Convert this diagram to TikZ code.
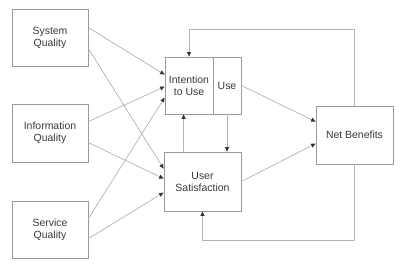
\documentclass[tikz,border=0pt]{standalone}
\usepackage{fontspec}
\setmainfont{Liberation Sans}
\usetikzlibrary{arrows.meta,calc}
\definecolor{linegray}{HTML}{B4B4B4}
\definecolor{boxgray}{HTML}{9A9A9A}
\definecolor{txtgray}{HTML}{3A3A3A}
\begin{document}
\begin{tikzpicture}[x=1bp,y=-1bp,
  box/.style={draw=boxgray,line width=0.8bp,inner sep=0pt,align=center,
    text=txtgray,font=\fontsize{10.5}{12}\selectfont},
  conn/.style={draw=linegray,line width=0.7bp,
    -{Triangle[length=4.5bp,width=4bp,fill=black!80,color=black!80]}}]
\useasboundingbox (0,0) rectangle (403,271);
\fill[white] (0,0) rectangle (403,271);
\node[box,minimum width=76bp,minimum height=57bp] (sq) at (50,37.5) {System\\Quality};
\node[box,minimum width=76bp,minimum height=58bp] (iq) at (50,133) {Information\\Quality};
\node[box,minimum width=76bp,minimum height=57bp] (svq) at (50,229.5) {Service\\Quality};
\node[box,minimum width=48bp,minimum height=57bp] (int) at (189,85.5) {Intention\\to Use};
\node[box,minimum width=28bp,minimum height=57bp] (use) at (227,85.5) {Use};
\node[box,minimum width=77bp,minimum height=59bp] (us) at (202.5,181.5) {User\\Satisfaction};
\node[box,minimum width=77bp,minimum height=58bp] (nb) at (354.5,135) {Net Benefits};
\coordinate (ttop) at (0,29);
\coordinate (tbot) at (0,240);
% quality to intention/use and user satisfaction
\draw[conn] ($(sq.north east)+(0,19)$) -- ($(int.north west)+(0,18)$);
\draw[conn] ($(sq.north east)+(0,40)$) -- ($(us.north west)+(0,17)$);
\draw[conn] ($(iq.north east)+(0,18)$) -- ($(int.north west)+(0,30)$);
\draw[conn] ($(iq.north east)+(0,39)$) -- ($(us.north west)+(0,27)$);
\draw[conn] ($(svq.north east)+(0,18)$) -- ($(int.north west)+(0,41)$);
\draw[conn] ($(svq.north east)+(0,38)$) -- ($(us.north west)+(0,41)$);
% use / satisfaction to net benefits
\draw[conn] (use.east) -- ($(nb.north west)+(0,16)$);
\draw[conn] (us.east) -- ($(nb.north west)+(0,38)$);
% between intention/use and user satisfaction
\draw[conn] ($(us.north west)+(20,0)$) -- ($(int.south west)+(19,0)$);
\draw[conn] (use.south) -- (use.south |- us.north);
% feedback loops
\draw[conn] (nb.north) -- (nb.north |- ttop) -| (int.north);
\draw[conn] (nb.south) -- (nb.south |- tbot) -| (us.south);
\end{tikzpicture}
\end{document}
